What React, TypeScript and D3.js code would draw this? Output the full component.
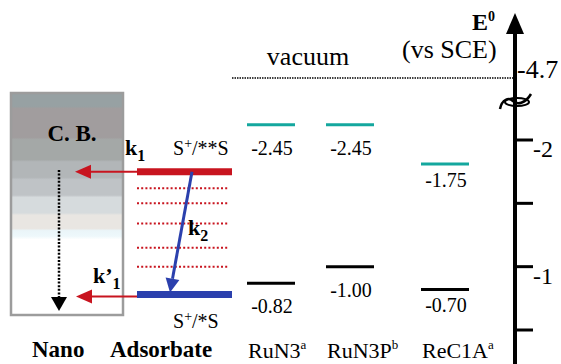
import * as d3 from 'd3';
import React from 'react';

// dye columns
const dyes = ["RuN3", "RuN3P", "ReC1A"];
const dyeNotes = ["a", "b", "a"];
const lumoText = ["-2.45", "-2.45", "-1.75"];
const homoText = ["-0.82", "-1.00", "-0.70"];
// where each level sits when read against the E0 axis (the drawing is schematic)
const lumoLevel = [-2.12, -2.12, -1.81];
const homoLevel = [-0.87, -1.0, -0.82];

// adsorbate states and the dotted intermediate levels between them
const excitedLevel = -1.75;
const groundLevel = -0.78;
const midLevels = [-1.62, -1.5, -1.34, -1.15, -1.0];

// axis
const axisTicks = [-2, -1.5, -1, -0.5];
const axisLabels = [-2, -1];
const vacuumLevel = -4.7;
const breakLevel = -2.3;

const W = 561;
const H = 364;
const RED = "#c8141f";
const BLUE = "#2b40ad";
const TEAL = "#14a79e";
const FONT = '"Liberation Serif", serif';

const App = () => {
    // broken axis: vacuum squeezed above the break, linear below it
    const y = d3.scaleLinear()
        .domain([vacuumLevel, breakLevel, -0.5])
        .range([78, 102, 330]);

    const xDye = d3.scaleOrdinal<string, number>()
        .domain(dyes)
        .range([247, 326, 421]);
    const levelW = 48;
    const axisX = 515;

    const adsX0 = 137;
    const adsX1 = 232;

    const box = { x: 11, y: 93, w: 112, h: 222 };
    const bands = [
        ["#97a1a3", 0], ["#97a1a3", 0.06], ["#a19d9e", 0.07], ["#a19d9e", 0.2],
        ["#a4a8a7", 0.21], ["#a4a8a7", 0.3], ["#b2b6b8", 0.31], ["#b2b6b8", 0.38],
        ["#bfc3c6", 0.39], ["#bfc3c6", 0.46], ["#d6dbdd", 0.47], ["#d6dbdd", 0.54],
        ["#e9e6e2", 0.55], ["#e9e6e2", 0.61], ["#eaf5f9", 0.62], ["#eef8fb", 0.645],
        ["#ffffff", 0.66], ["#ffffff", 1],
    ];

    const arrowLeft = (tipX, yy, len, half) =>
        `${tipX},${yy} ${tipX + len},${yy - half} ${tipX + len},${yy + half}`;

    // blue k2 arrow from excited to ground state
    const k2Start = [192, y(excitedLevel)];
    const k2End = [170, y(groundLevel) - 2];
    const ang = Math.atan2(k2End[1] - k2Start[1], k2End[0] - k2Start[0]);
    const headL = 14, headH = 7;
    const bx = k2End[0] - headL * Math.cos(ang);
    const by = k2End[1] - headL * Math.sin(ang);
    const k2Head = [
        [k2End[0], k2End[1]],
        [bx + headH * Math.sin(ang), by - headH * Math.cos(ang)],
        [bx - headH * Math.sin(ang), by + headH * Math.cos(ang)],
    ].map(p => p.join(",")).join(" ");

    const T = (props) => <text style={{ fontFamily: FONT }} {...props} />;

    return (
        <svg width={W} height={H} viewBox={`0 0 ${W} ${H}`}
            style={{ position: "absolute", left: 0, top: 0, background: "#fff", fontFamily: FONT }}>
            <defs>
                <linearGradient id="cb" x1="0" y1="0" x2="0" y2="1">
                    {bands.map((b, i) => (
                        <stop key={i} offset={b[1] as number} stopColor={b[0] as string} />
                    ))}
                </linearGradient>
            </defs>

            {/* nano conduction band */}
            <rect x={box.x} y={box.y} width={box.w} height={box.h}
                fill="url(#cb)" stroke="#9c9c9c" strokeWidth={2.5} />
            <T x={72} y={141} textAnchor="middle" fontSize={23} fontWeight="bold">C. B.</T>
            <line x1={59} x2={59} y1={170} y2={298} stroke="#000" strokeWidth={2.5}
                strokeDasharray="2,1.6" />
            <polygon points="59,311 51,297 67,297" fill="#000" />

            {/* adsorbate levels */}
            {midLevels.map((v, i) => (
                <line key={i} x1={adsX0} x2={adsX1 - 3} y1={y(v)} y2={y(v)}
                    stroke={RED} strokeWidth={2} strokeDasharray="2,2.2" />
            ))}
            <line x1={adsX0} x2={adsX1} y1={y(excitedLevel)} y2={y(excitedLevel)}
                stroke={RED} strokeWidth={7} />
            <line x1={adsX0} x2={adsX1} y1={y(groundLevel)} y2={y(groundLevel)}
                stroke={BLUE} strokeWidth={7} />

            {/* injection arrows */}
            <line x1={adsX0} x2={90} y1={y(excitedLevel)} y2={y(excitedLevel)} stroke={RED} strokeWidth={2} />
            <polygon points={arrowLeft(75, y(excitedLevel), 16, 7)} fill={RED} />
            <line x1={adsX0} x2={90} y1={y(groundLevel) + 2} y2={y(groundLevel) + 2} stroke={RED} strokeWidth={2} />
            <polygon points={arrowLeft(76, y(groundLevel) + 2, 16, 7)} fill={RED} />

            <line x1={k2Start[0]} y1={k2Start[1]} x2={bx} y2={by} stroke={BLUE} strokeWidth={3} />
            <polygon points={k2Head} fill={BLUE} />

            <T x={125} y={155} fontSize={22} fontWeight="bold">k<tspan dy={6} fontSize={16}>1</tspan></T>
            <T x={93} y={283} fontSize={22} fontWeight="bold">k’<tspan dy={6} fontSize={16}>1</tspan></T>
            <T x={188} y={235} fontSize={22} fontWeight="bold">k<tspan dy={6} fontSize={16}>2</tspan></T>

            <T x={173} y={155} fontSize={20}>S<tspan dy={-7} fontSize={14}>+</tspan><tspan dy={7}>/**S</tspan></T>
            <T x={173} y={328} fontSize={20}>S<tspan dy={-7} fontSize={14}>+</tspan><tspan dy={7}>/*S</tspan></T>

            {/* vacuum */}
            <line x1={232} x2={axisX - 2} y1={y(vacuumLevel)} y2={y(vacuumLevel)}
                stroke="#000" strokeWidth={1.5} strokeDasharray="1.5,1" />
            <T x={308} y={65} textAnchor="middle" fontSize={26}>vacuum</T>

            {/* dye levels */}
            {dyes.map((d, i) => {
                const x0 = xDye(d);
                const cx = x0 + levelW / 2;
                return (
                    <g key={d}>
                        <line x1={x0} x2={x0 + levelW} y1={y(lumoLevel[i])} y2={y(lumoLevel[i])}
                            stroke={TEAL} strokeWidth={3} />
                        <T x={cx + 1} y={y(lumoLevel[i]) + (i === 2 ? 23 : 30)} textAnchor="middle" fontSize={20}>{lumoText[i]}</T>
                        <line x1={x0} x2={x0 + levelW} y1={y(homoLevel[i])} y2={y(homoLevel[i])}
                            stroke="#000" strokeWidth={3} />
                        <T x={cx + 1} y={y(homoLevel[i]) + (i === 2 ? 23 : 30)} textAnchor="middle" fontSize={20}>{homoText[i]}</T>
                        <T x={x0 + 1} y={358} fontSize={22}>{d}<tspan dy={-9} fontSize={13}>{dyeNotes[i]}</tspan></T>
                    </g>
                );
            })}

            <T x={32} y={357} fontSize={23} fontWeight="bold">Nano</T>
            <T x={110} y={357} fontSize={23} fontWeight="bold">Adsorbate</T>

            {/* energy axis */}
            <line x1={axisX} x2={axisX} y1={28} y2={H} stroke="#000" strokeWidth={4} />
            <polygon points={`${axisX},13 ${axisX - 9},34 ${axisX + 9},34`} fill="#000" />
            {axisTicks.map(t => (
                <line key={t} x1={axisX + 1} x2={axisX + 18} y1={y(t)} y2={y(t)} stroke="#000" strokeWidth={3} />
            ))}
            {axisLabels.map(t => (
                <T key={t} x={533} y={y(t) + 17} fontSize={24}>{t}</T>
            ))}
            <T x={517} y={78} fontSize={26}>{vacuumLevel}</T>
            <path d={`M500,109 C502,99 509,97 513,101 C517,105 525,104 531,94`}
                fill="none" stroke="#000" strokeWidth={2.5} />
            <ellipse cx={517} cy={102} rx={12} ry={4} fill="none" stroke="#000" strokeWidth={2} />

            <T x={472} y={30} fontSize={24} fontWeight="bold">E<tspan dy={-9} fontSize={14}>0</tspan></T>
            <T x={402} y={58} fontSize={26}>(vs SCE)</T>
        </svg>
    );
};

export default App;
